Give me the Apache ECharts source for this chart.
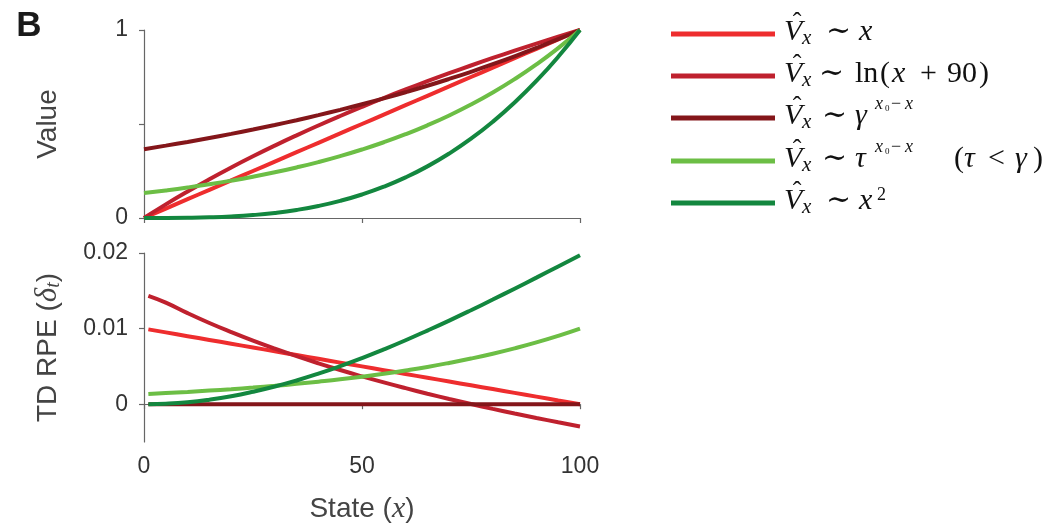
<!DOCTYPE html>
<html><head><meta charset="utf-8">
<script src="https://cdn.jsdelivr.net/npm/echarts@6/dist/echarts.min.js"></script>
<style>html,body{margin:0;padding:0;background:#fff}#c{width:1059px;height:529px}</style>
</head><body><div id="c"></div>
<script>
// ---------- data ----------
const xValue = [0,5,10,15,20,25,30,35,40,45,50,55,60,65,70,75,80,85,90,95,100];
const valueLinear = [0,0.05,0.10,0.15,0.20,0.25,0.30,0.35,0.40,0.45,0.50,0.55,0.60,0.65,0.70,0.75,0.80,0.85,0.90,0.95,1.00];
const valueLog = [0,0.0724,0.1410,0.2063,0.2686,0.3281,0.3850,0.4396,0.4921,0.5426,0.5913,0.6383,0.6836,0.7275,0.7700,0.8112,0.8512,0.8899,0.9276,0.9643,1.00];
const valueGamma = [0.366,0.3849,0.4047,0.4256,0.4475,0.4706,0.4948,0.5203,0.5472,0.5754,0.6050,0.6362,0.6690,0.7034,0.7397,0.7778,0.8179,0.8601,0.9044,0.9510,1.00];
const valueTau = [0.1326,0.1467,0.1623,0.1796,0.1987,0.2198,0.2431,0.2690,0.2975,0.3292,0.3642,0.4029,0.4457,0.4931,0.5455,0.6035,0.6676,0.7386,0.8171,0.9039,1.00];
const valueCubic = [0,0.0001,0.001,0.0034,0.008,0.0156,0.027,0.0429,0.064,0.0911,0.125,0.1664,0.216,0.2746,0.343,0.4219,0.512,0.6141,0.729,0.8574,1.00];

const xRpe = [1,5,10,15,20,25,30,35,40,45,50,55,60,65,70,75,80,85,90,95,100];
const rpeLinear = [0.0099,0.0095,0.009,0.0085,0.008,0.0075,0.007,0.0065,0.006,0.0055,0.005,0.0045,0.004,0.0035,0.003,0.0025,0.002,0.0015,0.001,0.0005,0];
const rpeLog = [0.01434,0.01344,0.01204,0.01074,0.00954,0.00841,0.00735,0.00635,0.00541,0.00452,0.00368,0.00288,0.00212,0.00139,0.00069,0.00002,-0.00062,-0.00123,-0.00182,-0.00239,-0.00294];
const rpeGamma = [0,0,0,0,0,0,0,0,0,0,0,0,0,0,0,0,0,0,0,0,0];
const rpeTau = [0.00135,0.00147,0.00162,0.0018,0.00199,0.0022,0.00243,0.00269,0.00298,0.00329,0.00364,0.00403,0.00446,0.00493,0.00546,0.00604,0.00668,0.00739,0.00817,0.00904,0.01];
const rpeCubic = [0.000001,0.00006,0.00026,0.0006,0.00106,0.00165,0.00234,0.00314,0.00404,0.00503,0.0061,0.00725,0.00846,0.00974,0.01106,0.01243,0.01384,0.01528,0.01674,0.01822,0.0197];

const xTicks = [0,50,100];
const valueTicks = [0,0.5,1];
const valueTickLabels = ['0','','1'];
const rpeTicks = [0,0.01,0.02];

const colors = ['#EE2D2E','#BF212E','#84161A','#6CBE45','#13873F'];
const names = ['linear','log','gamma','tau','cubic'];

// ---------- chart ----------
const SANS = '"Liberation Sans", Arial, sans-serif';
const SERIF = '"Liberation Serif", "DejaVu Serif", serif';
const AX = '#666';
const TXT = '#333';

function zip(xs, ys){ return xs.map((x,i)=>[x, ys[i]]); }

const topSets = [valueLinear, valueLog, valueGamma, valueTau, valueCubic];
const botSets = [rpeLinear, rpeLog, rpeGamma, rpeTau, rpeCubic];

const series = [];
topSets.forEach((d,i)=>series.push({type:'line', name:names[i], xAxisIndex:0, yAxisIndex:0, data:zip(xValue,d), showSymbol:false, smooth:true, lineStyle:{color:colors[i], width:4}, itemStyle:{color:colors[i]}, silent:true, animation:false}));
botSets.forEach((d,i)=>series.push({type:'line', name:names[i]+'_rpe', xAxisIndex:1, yAxisIndex:1, data:zip(xRpe,d), showSymbol:false, smooth:true, lineStyle:{color:colors[i], width:4}, itemStyle:{color:colors[i]}, silent:true, animation:false}));

const axisLine = {show:true, lineStyle:{color:AX, width:1.2}};
const axisTick = {show:true, length:5, inside:false, lineStyle:{color:AX, width:1.2}};

// legend graphics
const rowY = [34, 76, 118, 161, 203];
const it = (s)=>'italic '+s+'px '+SERIF;
const up = (s)=>'normal '+s+'px '+SERIF;
function txt(t, x, y, font, align){
  return {type:'text', x:x, y:y, silent:true, style:{text:t, font:font, fill:'#111', textAlign:align||'left', align:align||'left', textVerticalAlign:'middle', verticalAlign:'middle'}};
}
const M = 30, SUB = 21, SUP = 18;
const graphics = [];
rowY.forEach((y,i)=>{
  graphics.push({type:'line', silent:true, shape:{x1:671, y1:y, x2:775, y2:y}, style:{stroke:colors[i], lineWidth:5}});
  graphics.push(txt('ˆ', 797, y-11, up(26), 'center'));
  graphics.push(txt('V', 784, y-2, it(M)));
  graphics.push(txt('x', 802, y+4.5, it(SUB)));
});
// row 1: ~ x
graphics.push(txt('∼', 826, rowY[0]-2, up(M)));
graphics.push(txt('x', 859, rowY[0]-2, it(M)));
// row 2: ~ ln(x + 90)
graphics.push(txt('∼', 819, rowY[1]-2, up(M)));
graphics.push(txt('ln', 855, rowY[1]-2, up(M)));
graphics.push(txt('(', 880, rowY[1]-2, up(M)));
graphics.push(txt('x', 892, rowY[1]-2, it(M)));
graphics.push(txt('+', 920, rowY[1]-2, up(M)));
graphics.push(txt('90', 947, rowY[1]-2, up(M)));
graphics.push(txt(')', 979, rowY[1]-2, up(M)));
// row 3 / 4: ~ gamma^{x0 - x}, tau^{x0 - x}
[[2,'γ'],[3,'τ']].forEach(([r,sym])=>{
  const y = rowY[r];
  graphics.push(txt('∼', 822, y-2, up(M)));
  graphics.push(txt(sym, 855, y-2, it(M)));
  graphics.push(txt('x', 875, y-14, it(SUP)));
  graphics.push(txt('0', 885, y-9, up(9)));
  graphics.push(txt('−', 891, y-14, up(SUP)));
  graphics.push(txt('x', 905, y-14, it(SUP)));
});
graphics.push(txt('(', 954, rowY[3]-2, up(M)));
graphics.push(txt('τ', 964, rowY[3]-2, it(M)));
graphics.push(txt('<', 988, rowY[3]-2, up(M)));
graphics.push(txt('γ', 1015, rowY[3]-2, it(M)));
graphics.push(txt(')', 1033, rowY[3]-2, up(M)));
// row 5: ~ x^2
graphics.push(txt('∼', 826, rowY[4]-2, up(M)));
graphics.push(txt('x', 859, rowY[4]-2, it(M)));
graphics.push(txt('2', 877, rowY[4]-8, up(SUP)));
// panel letter
graphics.push({type:'text', x:29, y:26, silent:true, style:{text:'B', font:'bold 35px '+SANS, fill:'#1a1a1a', textAlign:'center', align:'center', textVerticalAlign:'middle', verticalAlign:'middle'}});

const option = {
  animation:false,
  backgroundColor:'#fff',
  grid:[
    {left:144, top:30, width:436, height:188},
    {left:144, top:253, width:436, height:189}
  ],
  xAxis:[
    {gridIndex:0, type:'value', min:0, max:100, interval:50, axisLine, axisTick, axisLabel:{show:false}, splitLine:{show:false}},
    {gridIndex:1, type:'value', min:0, max:100, interval:50, axisLine, axisTick,
     axisLabel:{show:true, fontFamily:SANS, fontSize:23, color:TXT, margin:13},
     splitLine:{show:false},
     name:'{n|State (}{i|x}{n|)}', nameLocation:'middle', nameGap:52,
     nameTextStyle:{rich:{n:{fontFamily:SANS, fontSize:28, color:'#444'}, i:{fontFamily:SERIF, fontStyle:'italic', fontSize:30, color:'#444'}}}
    }
  ],
  yAxis:[
    {gridIndex:0, type:'value', min:0, max:1, interval:0.5, axisLine, axisTick,
     axisLabel:{show:true, fontFamily:SANS, fontSize:23, color:TXT, margin:16, formatter:(v)=>{const k=valueTicks.indexOf(v); return k>=0?valueTickLabels[k]:'';}},
     splitLine:{show:false},
     name:'Value', nameLocation:'middle', nameRotate:90, nameGap:82,
     nameTextStyle:{fontFamily:SANS, fontSize:28, color:'#444'}
    },
    {gridIndex:1, type:'value', min:-0.005, max:0.02, axisLine,
     axisTick:Object.assign({}, axisTick, {customValues:rpeTicks}),
     axisLabel:{show:true, fontFamily:SANS, fontSize:23, color:TXT, margin:16, customValues:rpeTicks, formatter:(v)=>String(Math.round(v*100)/100)},
     splitLine:{show:false},
     name:'{n|TD RPE (}{i|δ}{s|t}{n|)}', nameLocation:'middle', nameRotate:90, nameGap:80,
     nameTextStyle:{rich:{n:{fontFamily:SANS, fontSize:28, color:'#444'}, i:{fontFamily:SERIF, fontStyle:'italic', fontSize:31, color:'#444'}, s:{fontFamily:SERIF, fontStyle:'italic', fontSize:20, color:'#444', padding:[12,0,0,0]}}}
    }
  ],
  series:series,
  graphic:graphics
};
const chart = echarts.init(document.getElementById('c'), null, {renderer:'canvas'});
chart.setOption(option);
</script></body></html>
